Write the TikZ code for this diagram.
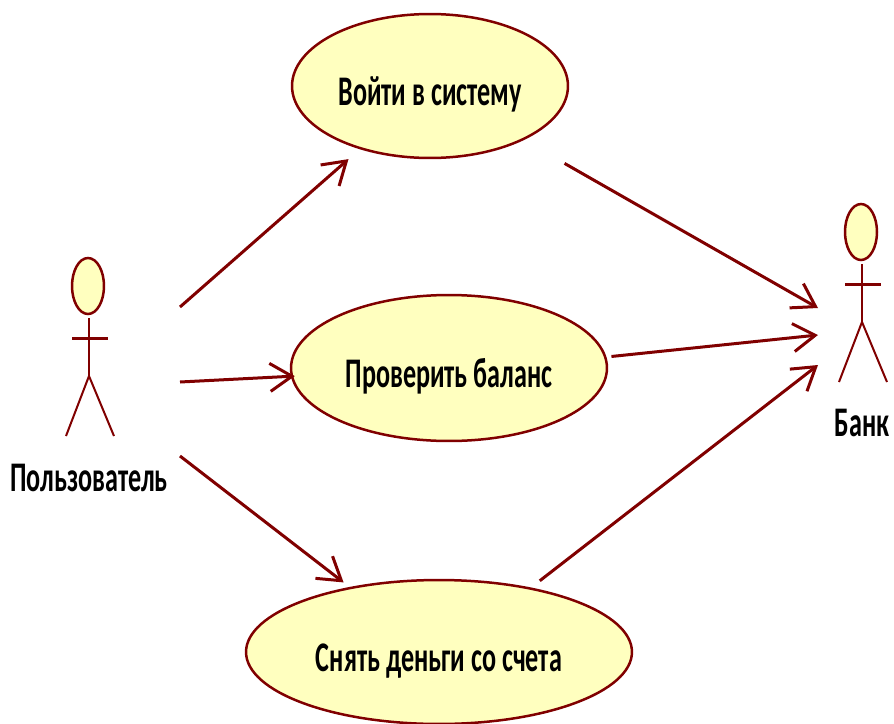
\documentclass[tikz,border=0pt]{standalone}
\usepackage{fontspec}
\setmainfont{Carlito}[FakeStretch=0.62]
\usetikzlibrary{shapes.geometric}
\usetikzlibrary{arrows.meta}
\definecolor{umlline}{HTML}{800000}
\definecolor{umlfill}{HTML}{FFFFBF}
\tikzset{
  usecase/.style={ellipse,draw=umlline,fill=umlfill,line width=0.05cm,inner sep=0pt,text height=0.9cm,text depth=0.14cm,font=\fontsize{24}{28}\selectfont\bfseries},
  acthead/.style={ellipse,draw=umlline,fill=umlfill,line width=0.05cm,inner sep=0pt,minimum width=0.64cm,minimum height=1.12cm},
  actline/.style={draw=umlline,line width=0.04cm},
  actarm/.style={draw=umlline,line width=0.06cm},
  actname/.style={font=\fontsize{24}{28}\selectfont\bfseries},
  assoc/.style={draw=umlline,line width=0.06cm,-{Straight Barb[length=0.44cm,width=0.56cm]}},
}
\begin{document}
\begin{tikzpicture}[x=0.02cm,y=-0.02cm]
\useasboundingbox (0,0) rectangle (894,724);

\node[usecase,minimum width=5.52cm,minimum height=2.88cm] (login) at (430,86) {Войти в систему};
\node[usecase,minimum width=6.32cm,minimum height=2.92cm] (balance) at (449,368) {Проверить баланс};
\node[usecase,minimum width=7.72cm,minimum height=2.88cm] (cash) at (439,652) {Снять деньги со счета};

% user
\node[acthead] (userhead) at (88,286) {};
\coordinate (userneck) at (89,318);
\coordinate (userhip) at (89,376);
\coordinate (userarml) at (72,338);
\coordinate (userarmr) at (108,338);
\coordinate (userlegl) at (66,436);
\coordinate (userlegr) at (114,436);
\draw[actline] (userneck) -- (userhip);
\draw[actarm] (userarml) -- (userarmr);
\draw[actline] (userlegl) -- (userhip) -- (userlegr);
\node[actname] (username) at (89,478) {Пользователь};

% bank
\node[acthead] (bankhead) at (861,232) {};
\coordinate (bankneck) at (862,264);
\coordinate (bankhip) at (862,322);
\coordinate (bankarml) at (845,284);
\coordinate (bankarmr) at (881,284);
\coordinate (banklegl) at (839,382);
\coordinate (banklegr) at (887,382);
\draw[actline] (bankneck) -- (bankhip);
\draw[actarm] (bankarml) -- (bankarmr);
\draw[actline] (banklegl) -- (bankhip) -- (banklegr);
\node[actname] (bankname) at (862,423) {Банк};

% free ends
\coordinate (usera) at (180,307);
\coordinate (userb) at (180,382);
\coordinate (userc) at (180,456);
\coordinate (banka) at (818,308);
\coordinate (bankb) at (818,335);
\coordinate (bankc) at (818,365);

\draw[assoc,shorten >=0.3cm] (usera) -- (login.222.4);
\draw[assoc,shorten >=-0.08cm] (userb) -- (balance.183.7);
\draw[assoc,shorten >=0.15cm] (userc) -- (cash.144);
\draw[assoc,shorten <=0.94cm] (login.330.3) -- (banka);
\draw[assoc,shorten <=0.1cm] (balance.4.6) -- (bankb);
\draw[assoc,shorten <=0.22cm] (cash.35.7) -- (bankc);
\end{tikzpicture}
\end{document}
